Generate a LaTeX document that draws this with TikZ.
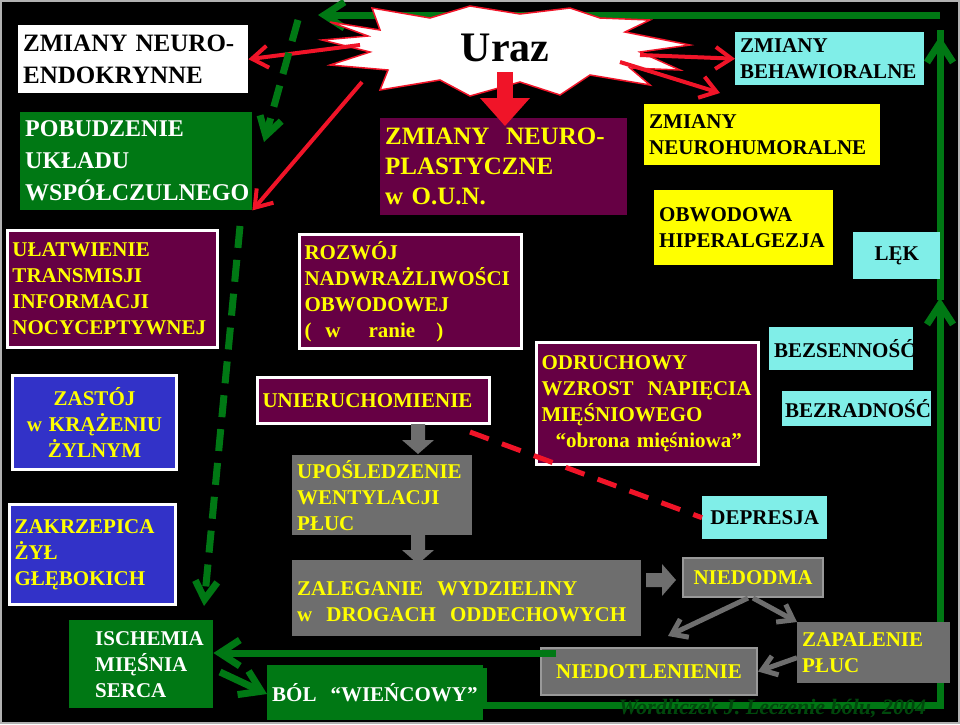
\documentclass[tikz,border=0pt]{standalone}
\usepackage{fontspec}
\setmainfont{Liberation Serif}
\usetikzlibrary{arrows.meta,positioning}
\definecolor{purp}{RGB}{102,0,68}
\definecolor{dgreen}{RGB}{0,120,20}
\definecolor{cya}{RGB}{128,238,232}
\definecolor{blu}{RGB}{50,50,200}
\definecolor{gry}{RGB}{110,110,110}
\definecolor{yel}{RGB}{255,255,0}
\definecolor{red1}{RGB}{240,20,40}
\tikzset{
box/.style = {anchor=north west, align=left, inner sep=5pt, font=\bfseries\fontsize{21}{26}\selectfont},
purpbox/.style = {box, fill=purp, text=yel, draw=white, line width=3pt},
cyanbox/.style = {box, fill=cya, text=black},
yelbox/.style = {box, fill=yel, text=black},
greybox/.style = {box, fill=gry, text=yel},
bluebox/.style = {box, fill=blu, text=yel, draw=white, line width=3pt},
greenbox/.style = {box, fill=dgreen, text=white},
redarr/.style = {red1, line width=4pt, -{Straight Barb[length=16pt,width=22pt]}},
greenarr/.style = {dgreen, line width=7pt, -{Straight Barb[length=20pt,width=26pt]}},
greyarr/.style = {gry, line width=5pt, -{Straight Barb[length=14pt,width=20pt]}},
pics/blockarr/.style = {code={\fill[gry] (-7,0) -- (7,0) -- (7,16) -- (16,16) -- (0,30) -- (-16,16) -- (-7,16) -- cycle;}}
}
\begin{document}
\begin{tikzpicture}[x=1pt,y=-1pt]
\fill[black] (0,0) rectangle (960,724);
\draw[gray!60, line width=2pt] (1,1) rectangle (959,723);
\useasboundingbox (0,0) rectangle (960,724);
% green loop
\coordinate (tr) at (940,15);
\coordinate (tl) at (318,15);
\coordinate (br) at (940,705);
\draw[dgreen, line width=7pt] (940,300) -- (940,30);
\draw[greenarr] (tr) -- (tl);
\draw[greenarr] (940,300) -- (940,36);
\draw[greenarr] (483,705) -- (br) -- (940,298);
% star
\draw[red1, line width=1.5pt, fill=white] (330,22) -- (380,30) -- (372,8) -- (430,18) -- (470,6) -- (520,14) -- (570,8) -- (600,18) -- (650,20) -- (625,32) -- (690,45) -- (640,52) -- (680,70) -- (630,68) -- (650,85) -- (590,75) -- (560,95) -- (520,82) -- (470,96) -- (440,80) -- (380,90) -- (388,70) -- (330,65) -- (370,52) -- (322,40) -- (368,36) -- cycle;
\node[font=\bfseries\fontsize{42}{42}\selectfont] (uraz) at (505,48) {Uraz};
% boxes
\node[box, fill=white, text=black, font=\bfseries\fontsize{25}{32}\selectfont, text width=220pt, minimum height=68pt] (endo) at (18,25) {ZMIANY NEURO-\\ENDOKRYNNE};
\node[greenbox, font=\bfseries\fontsize{24}{32}\selectfont, text width=222pt, minimum height=98pt] (pobud) at (20,112) {POBUDZENIE\\UKŁADU\\WSPÓŁCZULNEGO};
\node[purpbox, text width=200pt, minimum height=117pt] (ulat) at (6,229) {UŁATWIENIE\\TRANSMISJI\\INFORMACJI\\NOCYCEPTYWNEJ};
\node[box, fill=purp, text=yel, font=\bfseries\fontsize{25}{30}\selectfont, text width=237pt, minimum height=97pt] (plast) at (380,118) {ZMIANY~ NEURO-\\PLASTYCZNE\\w O.U.N.};
\node[purpbox, text width=212pt, minimum height=114pt] (rozw) at (298,233) {ROZWÓJ\\NADWRAŻLIWOŚCI\\OBWODOWEJ\\(~ w ~~ ranie ~~)};
\node[cyanbox, text width=179pt, minimum height=53pt] (behaw) at (735,32) {ZMIANY\\BEHAWIORALNE};
\node[yelbox, text width=226pt, minimum height=61pt] (humor) at (644,104) {ZMIANY\\NEUROHUMORALNE};
\node[yelbox, text width=169pt, minimum height=75pt] (hiper) at (654,190) {OBWODOWA\\HIPERALGEZJA};
\node[cyanbox, align=center, text width=77pt, minimum height=47pt] (lek) at (853,232) {LĘK};
\node[cyanbox, text width=134pt, minimum height=43pt] (bezsen) at (769,327) {BEZSENNOŚĆ};
\node[cyanbox, text width=143pt, minimum height=35pt, inner sep=3pt] (bezrad) at (782,391) {BEZRADNOŚĆ};
\node[cyanbox, align=center, text width=115pt, minimum height=43pt] (depr) at (702,496) {DEPRESJA};
\node[bluebox, align=center, text width=154pt, minimum height=94pt] (zast) at (11,374) {ZASTÓJ\\w KRĄŻENIU\\ŻYLNYM};
\node[bluebox, text width=156pt, minimum height=100pt] (zakrz) at (8,503) {ZAKRZEPICA\\ŻYŁ\\GŁĘBOKICH};
\node[greenbox, text width=134pt, minimum height=88pt] (isch) at (69,620) {~~~ISCHEMIA\\~~~MIĘŚNIA\\~~~SERCA};
\node[greenbox, text width=206pt, minimum height=55pt] (bol) at (267,665) {\\[-8pt]BÓL ~“WIEŃCOWY”};
\node[purpbox, text width=222pt, minimum height=46pt] (unier) at (256,376) {UNIERUCHOMIENIE};
\node[purpbox, text width=212pt, minimum height=122pt] (odruch) at (535,341) {ODRUCHOWY\\WZROST~ NAPIĘCIA\\MIĘŚNIOWEGO\\~~“obrona mięśniowa”};
\node[greybox, text width=170pt, minimum height=77pt] (uposl) at (292,455) {UPOŚLEDZENIE\\WENTYLACJI\\PŁUC};
\node[greybox, text width=339pt, minimum height=76pt] (zaleg) at (292,560) {\\[-6pt]ZALEGANIE~ WYDZIELINY\\w~ DROGACH~ ODDECHOWYCH};
\node[greybox, draw=gray!80!white, line width=2pt, align=center, text width=130pt, minimum height=39pt] (niedod) at (682,557) {NIEDODMA};
\node[greybox, text width=143pt, minimum height=61pt] (zapal) at (797,622) {ZAPALENIE\\PŁUC};
\node[greybox, draw=gray!80!white, line width=2pt, align=center, text width=206pt, minimum height=47pt] (niedot) at (540,647) {NIEDOTLENIENIE};
\node[font=\bfseries\itshape\fontsize{22}{22}\selectfont, text=dgreen!60!black, anchor=north west] (src) at (615,696) {Wordliczek J. Leczenie bólu, 2004};
% red arrows from the star
\draw[red1, line width=16pt] (505,72) -- (505,100);
\fill[red1] (480,98) -- (530,98) -- (505,126) -- cycle;
\draw[redarr] (360,45) -- (endo.east);
\draw[redarr] (362,82) -- (pobud.south east);
\draw[redarr] (640,55) -- (behaw.west);
\draw[redarr] (620,62) -- (720,93);
% green dashed
\draw[dgreen, line width=7pt, dash pattern=on 22pt off 12pt, -{Straight Barb[length=18pt,width=22pt]}] (298,20) -- (264,142);
\draw[dgreen, line width=7pt, dash pattern=on 22pt off 12pt, -{Straight Barb[length=18pt,width=22pt]}] (240,226) -- (204,606);
% green bottom
\draw[greenarr] (556,653) -- (isch.east |- 0,653);
\draw[greenarr] (220,672) -- (bol.west |- 0,694);
\draw[dgreen, line width=7pt] (bol.east |- 0,668) -- (bol.east |- 0,705);
% red dashed
\draw[red1, line width=5pt, dash pattern=on 20pt off 14pt] (470,432) -- (depr.west);
% grey block arrows
\pic at (418,424) {blockarr};
\pic at (418,534) {blockarr};
\pic[rotate=90] at (646,580) {blockarr};
\draw[greyarr] (niedod.south) ++(-5,0) -- (668,636);
\draw[greyarr] (niedod.south) -- (zapal.north west);
\draw[greyarr] (zapal.west) ++(0,5) -- (niedot.east);
\end{tikzpicture}
\end{document}
